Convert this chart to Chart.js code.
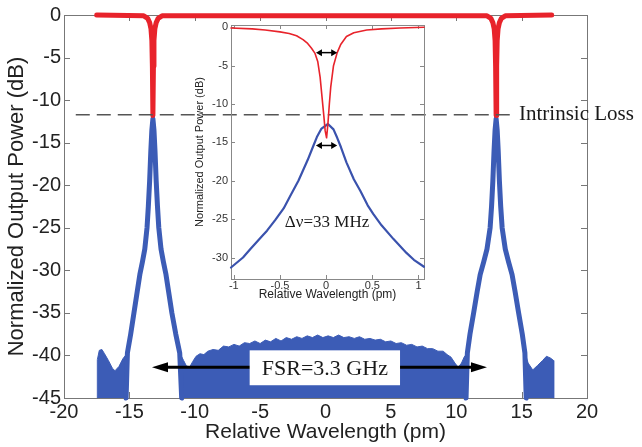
<!DOCTYPE html>
<html>
<head>
<meta charset="utf-8">
<script src="https://cdn.jsdelivr.net/npm/chart.js@4.4.1/dist/chart.umd.min.js"></script>
<style>
  html, body { margin: 0; padding: 0; background: #fff; }
  #wrap { position: relative; width: 642px; height: 447px; }
  #mainChart { position: absolute; left: 0; top: 0; }
  #insetChart { position: absolute; left: 180px; top: 15px; }
</style>
</head>
<body>
<div id="wrap">
  <canvas id="mainChart" width="642" height="447" style="width:642px;height:447px"></canvas>
  <canvas id="insetChart" width="255" height="287" style="width:255px;height:287px"></canvas>
</div>
<script>
// ---- main plot data (pm, dB) ----
const mainXTicks = [-20, -15, -10, -5, 0, 5, 10, 15, 20];
const mainYTicks = [0, -5, -10, -15, -20, -25, -30, -35, -40, -45];

const redX = [-17.5, -13.9, -13.6, -13.45, -13.35, -13.28, -13.24, -13.2, -13.16, -13.12, -13.05, -12.95, -12.8, -12.5,
              12.35, 12.65, 12.8, 12.9, 12.97, 13.01, 13.05, 13.09, 13.13, 13.2, 13.3, 13.45, 13.75, 17.3];
const redY = [0, -0.1, -0.4, -0.9, -1.6, -3, -6, -11.8, -6, -3, -1.6, -0.9, -0.4, -0.1,
              -0.1, -0.4, -0.9, -1.6, -3, -6, -11.8, -6, -3, -1.6, -0.9, -0.4, -0.1, 0];

const leftPeakX = [-15.25, -15.15, -14.9, -14.65, -14.4, -14.2, -14.0, -13.82, -13.65, -13.55, -13.45, -13.36, -13.28, -13.2,
                   -13.12, -13.04, -12.95, -12.85, -12.75, -12.58, -12.4, -12.2, -12.0, -11.75, -11.45, -11.15, -11.0];
const leftPeakY = [-45, -39.7, -37.5, -35, -32.5, -30.5, -29, -27.5, -25, -22.5, -19.5, -16, -13.5, -12.2,
                   -13.5, -16, -19.5, -22.5, -25, -27.5, -29, -30.5, -32.5, -35, -37.5, -39.7, -45];

const rightPeakX = [10.75, 10.85, 11.05, 11.33, 11.6, 11.83, 12.1, 12.35, 12.59, 12.7, 12.8, 12.89, 12.97, 13.05,
                    13.13, 13.21, 13.3, 13.4, 13.51, 13.75, 14.0, 14.27, 14.5, 14.77, 15.05, 15.25, 15.35];
const rightPeakY = [-45, -39.7, -37.5, -35, -32.5, -30.5, -29, -27.5, -25, -22.5, -19.5, -16, -13.5, -12.2,
                    -13.5, -16, -19.5, -22.5, -25, -27.5, -29, -30.5, -32.5, -35, -37.5, -39.7, -45];

// noise floor top edges
const leftFloorX = [-17.45, -17.45, -17.3, -17.1, -16.9, -16.6, -16.3, -16.1, -15.8, -15.5, -15.15];
const leftFloorY = [-45, -40.5, -39.4, -39.3, -39.8, -40.6, -41.5, -41.8, -41.3, -40.4, -39.7];

const midFloorX = [-11.15, -10.85, -10.65, -10.4, -10.15, -9.9, -9.6, -9.3, -9.0, -8.6, -8.2, -7.8, -7.4, -7.0, -6.6, -6.2,
                   -5.8, -5.4, -5.0, -4.6, -4.2, -3.8, -3.4, -3.0, -2.6, -2.2, -1.8, -1.4, -1.0, -0.6, -0.2, 0.2, 0.6,
                   1.0, 1.4, 1.8, 2.2, 2.6, 3.0, 3.4, 3.8, 4.2, 4.6, 5.0, 5.4, 5.8, 6.2, 6.6, 7.0, 7.4, 7.8, 8.2, 8.6,
                   9.0, 9.3, 9.6, 9.9, 10.15, 10.4, 10.6, 10.85];
const midFloorY = [-39.7, -40.6, -41.2, -41.4, -40.7, -40.1, -39.8, -39.9, -39.5, -39.3, -39.4, -38.9, -39.0, -38.7, -38.9, -38.5,
                   -38.6, -38.3, -38.6, -38.2, -38.4, -38.0, -38.3, -37.9, -38.1, -37.8, -38.0, -37.7, -37.9, -37.6, -37.9, -37.7, -37.9,
                   -37.6, -37.9, -37.8, -38.0, -37.8, -38.1, -38.0, -38.2, -38.1, -38.4, -38.3, -38.6, -38.5, -38.8, -38.7, -39.0, -38.9, -39.2, -39.2, -39.5,
                   -39.5, -39.9, -40.2, -40.9, -41.4, -40.9, -40.2, -39.7];

const rightFloorX = [15.25, 15.5, 15.85, 16.2, 16.6, 16.9, 17.2, 17.45, 17.45];
const rightFloorY = [-39.7, -40.9, -41.7, -41.2, -40.6, -40.1, -40.3, -40.6, -45];

// annotations
const lossLevel = -11.72;
const lossLineX = [-19.1, 14.1];
const lossLabelX = 14.8;
const fsrArrowX = [-13.27, 12.35];
const fsrArrowY = -41.4;
const fsrBoxX = [-5.8, 5.7];
const fsrBoxY = [-39.4, -43.5];

// ---- inset data ----
const insetXRange = [-1.03, 1.06];
const insetYRange = [-32.8, 0.3];
const insetXTicks = [-1, -0.5, 0, 0.5, 1];
const insetYTicks = [0, -5, -10, -15, -20, -25, -30];

const insetRedX = [-1.03, -0.8, -0.66, -0.5, -0.4, -0.32, -0.25, -0.2, -0.16, -0.12, -0.09, -0.065, -0.045, -0.025, -0.01, 0.005,
                   0.02, 0.035, 0.05, 0.08, 0.12, 0.16, 0.22, 0.3, 0.44, 0.6, 0.8, 1.06];
const insetRedY = [-0.1, -0.2, -0.35, -0.6, -0.8, -1.1, -1.6, -2.1, -2.7, -3.4, -4.5, -6.5, -9, -11.5, -13.5, -14.4,
                   -12.5, -10, -7.8, -5, -3.3, -2.2, -1.2, -0.7, -0.35, -0.2, -0.1, 0];

const insetBlueX = [-1.03, -0.9, -0.82, -0.7, -0.64, -0.55, -0.46, -0.38, -0.3, -0.2, -0.14, -0.1, -0.05, 0.02,
                    0.08, 0.12, 0.16, 0.22, 0.3, 0.37, 0.45, 0.51, 0.6, 0.73, 0.87, 0.95, 1.06];
const insetBlueY = [-31.3, -30, -28.9, -27.3, -26.5, -25.1, -23.6, -21.8, -20, -17.3, -15.5, -14.3, -13.2, -12.6,
                    -13.3, -14.4, -15.6, -17.6, -19.8, -21.3, -23.2, -24.3, -25.8, -27.6, -29.4, -30.3, -31.2];

const widthArrowX = [-0.11, 0.12];
const widthArrowY = [-3.3, -15.4];
const deltaLabel = { x: 0.01, y: -25.4 };

const sans = "'Liberation Sans', Arial, sans-serif";
const serif = "'Liberation Serif', 'Times New Roman', serif";
const RED = '#e8232b';
const BLUE = '#3c5cb6';

function pts(xs, ys) {
    return xs.map((x, i) => ({ x: x, y: ys[i] }));
}

// box round the plot area with ticks pointing inward on all four sides
const framePlugin = {
    id: 'frame',
    beforeDatasetsDraw(chart, args, opts) {
        const ctx = chart.ctx, a = chart.chartArea;
        const xs = chart.scales.x, ys = chart.scales.y;
        ctx.save();
        ctx.strokeStyle = opts.color;
        ctx.lineWidth = 1;
        ctx.strokeRect(Math.round(a.left) + 0.5, Math.round(a.top) + 0.5, Math.round(a.right - a.left), Math.round(a.bottom - a.top));
        ctx.beginPath();
        xs.ticks.forEach(t => {
            const p = Math.round(xs.getPixelForValue(t.value)) + 0.5;
            ctx.moveTo(p, a.bottom); ctx.lineTo(p, a.bottom - opts.len);
            ctx.moveTo(p, a.top); ctx.lineTo(p, a.top + opts.len);
        });
        ys.ticks.forEach(t => {
            const p = Math.round(ys.getPixelForValue(t.value)) + 0.5;
            ctx.moveTo(a.left, p); ctx.lineTo(a.left + opts.len, p);
            ctx.moveTo(a.right, p); ctx.lineTo(a.right - opts.len, p);
        });
        ctx.stroke();
        ctx.restore();
    }
};

function arrow(ctx, x1, x2, y, head, half, lw) {
    ctx.lineWidth = lw;
    ctx.beginPath();
    ctx.moveTo(x1 + head * 0.6, y);
    ctx.lineTo(x2 - head * 0.6, y);
    ctx.stroke();
    ctx.beginPath();
    ctx.moveTo(x1, y); ctx.lineTo(x1 + head, y - half); ctx.lineTo(x1 + head, y + half); ctx.closePath();
    ctx.moveTo(x2, y); ctx.lineTo(x2 - head, y - half); ctx.lineTo(x2 - head, y + half); ctx.closePath();
    ctx.fill();
}

const mainNotes = {
    id: 'mainNotes',
    afterDatasetsDraw(chart) {
        const ctx = chart.ctx, xs = chart.scales.x, ys = chart.scales.y;
        ctx.save();
        const yl = ys.getPixelForValue(lossLevel);
        ctx.strokeStyle = '#555';
        ctx.lineWidth = 1.6;
        ctx.setLineDash([14, 7]);
        ctx.beginPath();
        ctx.moveTo(xs.getPixelForValue(lossLineX[0]), yl);
        ctx.lineTo(xs.getPixelForValue(lossLineX[1]), yl);
        ctx.stroke();
        ctx.setLineDash([]);

        ctx.fillStyle = '#1a1a1a';
        ctx.font = '21px ' + serif;
        ctx.textAlign = 'left';
        ctx.textBaseline = 'middle';
        ctx.fillText('Intrinsic Loss', xs.getPixelForValue(lossLabelX), yl);

        // FSR arrow, then the white label box over it
        ctx.strokeStyle = '#000';
        ctx.fillStyle = '#000';
        const ya = ys.getPixelForValue(fsrArrowY);
        arrow(ctx, xs.getPixelForValue(fsrArrowX[0]), xs.getPixelForValue(fsrArrowX[1]), ya, 16, 5, 3);

        const bx1 = xs.getPixelForValue(fsrBoxX[0]), bx2 = xs.getPixelForValue(fsrBoxX[1]);
        const by1 = ys.getPixelForValue(fsrBoxY[0]), by2 = ys.getPixelForValue(fsrBoxY[1]);
        ctx.fillStyle = '#fff';
        ctx.fillRect(bx1, by1, bx2 - bx1, by2 - by1);
        ctx.fillStyle = '#1a1a1a';
        ctx.font = '22px ' + serif;
        ctx.textAlign = 'center';
        ctx.fillText('FSR=3.3 GHz', (bx1 + bx2) / 2, (by1 + by2) / 2 + 1);
        ctx.restore();
    }
};

const insetNotes = {
    id: 'insetNotes',
    afterDatasetsDraw(chart) {
        const ctx = chart.ctx, xs = chart.scales.x, ys = chart.scales.y;
        ctx.save();
        ctx.strokeStyle = '#000';
        ctx.fillStyle = '#000';
        widthArrowY.forEach(v => {
            arrow(ctx, xs.getPixelForValue(widthArrowX[0]), xs.getPixelForValue(widthArrowX[1]), ys.getPixelForValue(v), 6, 3.5, 1.5);
        });
        ctx.fillStyle = '#1a1a1a';
        ctx.font = '17px ' + serif;
        ctx.textAlign = 'center';
        ctx.textBaseline = 'middle';
        ctx.fillText('\u0394\u03bd=33 MHz', xs.getPixelForValue(deltaLabel.x), ys.getPixelForValue(deltaLabel.y));
        ctx.restore();
    }
};

function lineSet(xs, ys, color, width, extra) {
    return Object.assign({
        data: pts(xs, ys),
        borderColor: color,
        backgroundColor: color,
        borderWidth: width,
        borderJoinStyle: 'round',
        borderCapStyle: 'round',
        pointRadius: 0,
        tension: 0,
        fill: false,
        clip: false
    }, extra || {});
}

new Chart(document.getElementById('mainChart'), {
    type: 'line',
    data: {
        datasets: [
            lineSet(redX, redY, RED, 5),
            lineSet(leftPeakX, leftPeakY, BLUE, 5),
            lineSet(rightPeakX, rightPeakY, BLUE, 5),
            lineSet(leftFloorX, leftFloorY, BLUE, 1, { fill: { value: -45 }, borderJoinStyle: 'miter' }),
            lineSet(midFloorX, midFloorY, BLUE, 1, { fill: { value: -45 }, borderJoinStyle: 'miter' }),
            lineSet(rightFloorX, rightFloorY, BLUE, 1, { fill: { value: -45 }, borderJoinStyle: 'miter' })
        ]
    },
    options: {
        responsive: false,
        animation: false,
        events: [],
        layout: { padding: { left: 0, right: 55, top: 14, bottom: 0 } },
        plugins: {
            legend: { display: false },
            tooltip: { enabled: false },
            frame: { color: '#777', len: 6 }
        },
        scales: {
            x: {
                type: 'linear',
                min: -20,
                max: 20,
                afterBuildTicks: s => { s.ticks = mainXTicks.map(v => ({ value: v })); },
                afterFit: s => { s.height = 49; },
                grid: { display: false, drawTicks: false },
                border: { display: false },
                ticks: { font: { family: sans, size: 20 }, color: '#222', padding: 2, maxRotation: 0, callback: v => String(v) },
                title: { display: true, text: 'Relative Wavelength (pm)', font: { family: sans, size: 21 }, color: '#222', padding: { top: 0, bottom: 2 } }
            },
            y: {
                type: 'linear',
                min: -45,
                max: 0,
                afterBuildTicks: s => { s.ticks = mainYTicks.map(v => ({ value: v })); },
                afterFit: s => { s.width = 64; },
                grid: { display: false, drawTicks: false },
                border: { display: false },
                ticks: { font: { family: sans, size: 20 }, color: '#222', padding: 3, callback: v => String(v) },
                title: { display: true, text: 'Normalized Output Power (dB)', font: { family: sans, size: 22 }, color: '#222', padding: { top: 4, bottom: 0 } }
            }
        }
    },
    plugins: [framePlugin, mainNotes]
});

new Chart(document.getElementById('insetChart'), {
    type: 'line',
    data: {
        datasets: [
            lineSet(insetRedX, insetRedY, RED, 1.6),
            lineSet(insetBlueX, insetBlueY, '#3a52ad', 2.2)
        ]
    },
    options: {
        responsive: false,
        animation: false,
        events: [],
        layout: { padding: { left: 0, right: 11, top: 10, bottom: 0 } },
        plugins: {
            legend: { display: false },
            tooltip: { enabled: false },
            frame: { color: '#888', len: 4 }
        },
        scales: {
            x: {
                type: 'linear',
                min: insetXRange[0],
                max: insetXRange[1],
                afterBuildTicks: s => { s.ticks = insetXTicks.map(v => ({ value: v })); },
                afterFit: s => { s.height = 23; },
                grid: { display: false, drawTicks: false },
                border: { display: false },
                ticks: { font: { family: sans, size: 11 }, color: '#333', padding: 0, maxRotation: 0, callback: v => String(v) },
                title: { display: true, text: 'Relative Wavelength (pm)', font: { family: sans, size: 12 }, color: '#222', padding: { top: 0, bottom: 0 } }
            },
            y: {
                type: 'linear',
                min: insetYRange[0],
                max: insetYRange[1],
                afterBuildTicks: s => { s.ticks = insetYTicks.map(v => ({ value: v })); },
                afterFit: s => { s.width = 51; },
                grid: { display: false, drawTicks: false },
                border: { display: false },
                ticks: { font: { family: sans, size: 11 }, color: '#333', padding: 3, callback: v => String(v) },
                title: { display: true, text: 'Normalized Output Power (dB)', font: { family: sans, size: 11 }, color: '#222', padding: { top: 13, bottom: 0 } }
            }
        }
    },
    plugins: [framePlugin, insetNotes]
});
</script>
</body>
</html>
